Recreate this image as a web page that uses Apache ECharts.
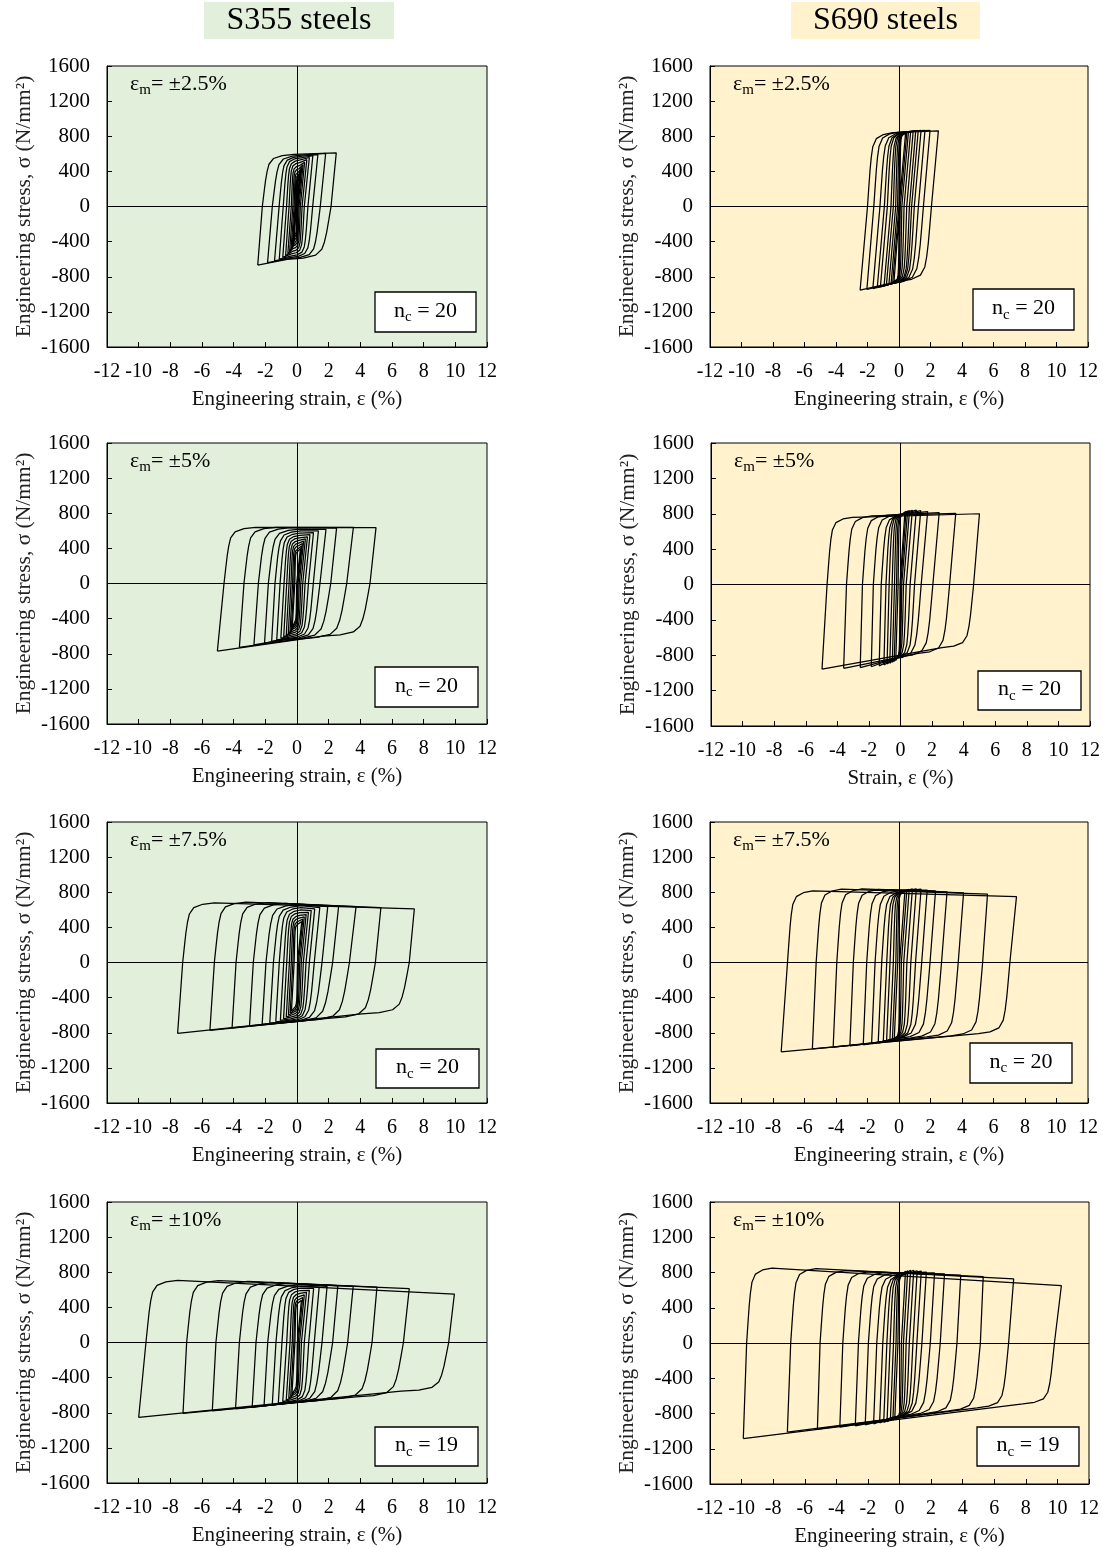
<!DOCTYPE html>
<html>
<head>
<meta charset="utf-8">
<script src="https://cdn.jsdelivr.net/npm/echarts@6.0.0/dist/echarts.min.js"></script>
<style>
html, body { margin: 0; padding: 0; background: #fff; }
#chart { width: 1103px; height: 1549px; }
</style>
</head>
<body>
<div id="chart"></div>
<script>
// each loop: [tipNegStrain, tipNegStress, upCrossStrain, upperKneeStress,
//             tipPosStrain, tipPosStress, downCrossStrain, lowerKneeStress]
var loopsS355_25 = [
    [-2.48, -668, -2.19, 594, 2.48, 611, 2.15, -602],
    [-1.86, -640, -1.56, 588, 1.81, 604, 1.47, -595],
    [-1.42, -620, -1.13, 574, 1.32, 592, 0.99, -582],
    [-1.12, -600, -0.87, 555, 1.0, 578, 0.69, -565],
    [-0.9, -580, -0.66, 530, 0.78, 558, 0.46, -540],
    [-0.72, -560, -0.5, 500, 0.62, 534, 0.32, -512],
    [-0.58, -540, -0.36, 465, 0.48, 505, 0.21, -480],
    [-0.47, -515, -0.26, 430, 0.38, 475, 0.13, -448],
    [-0.38, -490, -0.18, 395, 0.3, 445, 0.07, -415],
    [-0.31, -465, -0.12, 360, 0.24, 415, 0.03, -385],
    [-0.26, -440, -0.07, 330, 0.19, 385, 0.0, -352],
    [-0.22, -415, -0.04, 300, 0.16, 355, -0.02, -322]
];
var loopsS690_25 = [
    [-2.47, -953, -2.0, 840, 2.5, 862, 2.06, -850],
    [-2.04, -945, -1.6, 848, 1.97, 866, 1.55, -875],
    [-1.66, -935, -1.21, 850, 1.65, 868, 1.23, -880],
    [-1.38, -925, -0.93, 850, 1.4, 866, 0.97, -878],
    [-1.18, -915, -0.74, 850, 1.22, 862, 0.8, -875],
    [-0.95, -905, -0.51, 848, 1.06, 858, 0.66, -870],
    [-0.8, -895, -0.36, 845, 0.9, 855, 0.49, -866],
    [-0.64, -885, -0.21, 842, 0.74, 852, 0.32, -862],
    [-0.5, -875, -0.09, 838, 0.6, 848, 0.18, -858],
    [-0.4, -865, 0.0, 834, 0.5, 844, 0.08, -854],
    [-0.32, -855, 0.05, 830, 0.42, 840, 0.01, -850]
];
var loopsS355_5 = [
    [-5.03, -770, -4.61, 640, 4.99, 636, 4.61, -600],
    [-3.64, -728, -3.35, 640, 3.56, 638, 3.14, -630],
    [-2.72, -700, -2.44, 635, 2.5, 630, 2.13, -640],
    [-2.05, -680, -1.81, 620, 1.83, 615, 1.45, -635],
    [-1.6, -660, -1.39, 600, 1.35, 598, 1.03, -625],
    [-1.28, -645, -1.07, 575, 1.04, 578, 0.72, -610],
    [-1.02, -625, -0.82, 548, 0.82, 556, 0.51, -590],
    [-0.84, -608, -0.65, 520, 0.66, 532, 0.36, -568],
    [-0.68, -590, -0.5, 490, 0.53, 508, 0.24, -545],
    [-0.55, -570, -0.38, 460, 0.42, 482, 0.14, -520],
    [-0.44, -548, -0.28, 430, 0.34, 455, 0.07, -495],
    [-0.36, -525, -0.2, 400, 0.28, 428, 0.02, -470],
    [-0.3, -500, -0.14, 372, 0.22, 400, -0.02, -445]
];
var loopsS690_5 = [
    [-4.97, -958, -4.65, 760, 5.0, 800, 4.63, -715],
    [-3.6, -948, -3.42, 775, 3.5, 805, 3.11, -780],
    [-2.55, -940, -2.41, 785, 2.45, 812, 2.05, -815],
    [-1.85, -930, -1.72, 792, 1.72, 825, 1.31, -845],
    [-1.35, -920, -1.22, 796, 1.28, 835, 0.89, -840],
    [-1.05, -910, -0.92, 798, 1.0, 840, 0.61, -838],
    [-0.85, -900, -0.72, 800, 0.75, 840, 0.36, -835],
    [-0.68, -890, -0.53, 798, 0.57, 835, 0.19, -832],
    [-0.52, -880, -0.38, 795, 0.45, 830, 0.08, -830],
    [-0.4, -870, -0.25, 790, 0.35, 825, 0.02, -828],
    [-0.3, -860, -0.15, 785, 0.28, 820, -0.03, -825]
];
var loopsS355_75 = [
    [-7.54, -808, -7.22, 680, 7.41, 610, 7.09, -585],
    [-5.5, -772, -5.22, 688, 5.3, 626, 4.95, -635],
    [-4.1, -745, -3.85, 683, 3.73, 636, 3.31, -665],
    [-3.0, -722, -2.76, 673, 2.63, 640, 2.25, -685],
    [-2.2, -705, -1.96, 662, 1.94, 636, 1.58, -680],
    [-1.72, -690, -1.49, 648, 1.44, 626, 1.09, -672],
    [-1.34, -675, -1.12, 625, 1.12, 610, 0.78, -660],
    [-1.05, -660, -0.84, 598, 0.9, 592, 0.57, -642],
    [-0.85, -642, -0.65, 568, 0.72, 570, 0.4, -620],
    [-0.68, -622, -0.48, 536, 0.58, 546, 0.27, -595],
    [-0.54, -600, -0.36, 505, 0.46, 520, 0.17, -570],
    [-0.43, -577, -0.26, 472, 0.37, 494, 0.09, -545],
    [-0.35, -553, -0.18, 440, 0.3, 466, 0.03, -518]
];
var loopsS690_75 = [
    [-7.48, -1017, -7.08, 815, 7.46, 750, 7.04, -810],
    [-5.5, -985, -5.26, 835, 5.62, 778, 5.31, -835],
    [-4.18, -965, -3.95, 838, 4.1, 792, 3.76, -848],
    [-3.12, -950, -2.9, 832, 3.05, 805, 2.7, -860],
    [-2.27, -938, -2.05, 826, 2.32, 815, 1.97, -866],
    [-1.74, -928, -1.52, 820, 1.79, 825, 1.44, -872],
    [-1.32, -918, -1.1, 816, 1.4, 835, 1.05, -872],
    [-1.0, -908, -0.78, 812, 1.1, 840, 0.75, -870],
    [-0.79, -898, -0.57, 808, 0.85, 838, 0.5, -866],
    [-0.58, -888, -0.36, 804, 0.65, 834, 0.3, -862],
    [-0.42, -878, -0.2, 800, 0.5, 830, 0.15, -858],
    [-0.3, -868, -0.08, 795, 0.38, 825, 0.04, -854]
];
var loopsS355_10 = [
    [-10.0, -854, -9.54, 708, 9.94, 552, 9.58, -555],
    [-7.2, -808, -6.97, 705, 7.09, 613, 6.72, -620],
    [-5.35, -778, -5.12, 695, 5.05, 630, 4.74, -650],
    [-3.88, -755, -3.64, 685, 3.55, 640, 3.2, -678],
    [-2.83, -738, -2.59, 672, 2.58, 645, 2.25, -692],
    [-2.08, -722, -1.85, 658, 1.9, 640, 1.58, -690],
    [-1.56, -706, -1.33, 642, 1.4, 630, 1.09, -684],
    [-1.18, -690, -0.95, 620, 1.05, 615, 0.74, -670],
    [-0.9, -674, -0.65, 592, 0.78, 595, 0.46, -650],
    [-0.68, -656, -0.44, 560, 0.6, 570, 0.28, -625],
    [-0.52, -636, -0.3, 525, 0.46, 542, 0.16, -598],
    [-0.4, -614, -0.2, 490, 0.36, 512, 0.08, -570],
    [-0.32, -590, -0.13, 455, 0.28, 482, 0.02, -540]
];
var loopsS690_10 = [
    [-9.89, -1084, -9.68, 850, 10.25, 650, 9.81, -690],
    [-7.1, -1010, -6.89, 845, 7.23, 728, 6.91, -735],
    [-5.2, -978, -5.03, 822, 5.3, 752, 5.12, -770],
    [-3.78, -955, -3.59, 808, 3.88, 770, 3.64, -800],
    [-2.8, -940, -2.6, 798, 2.85, 785, 2.58, -820],
    [-2.17, -928, -1.97, 790, 2.22, 795, 1.95, -832],
    [-1.64, -918, -1.44, 786, 1.7, 805, 1.42, -842],
    [-1.26, -908, -1.06, 784, 1.38, 815, 1.1, -845],
    [-1.0, -900, -0.8, 782, 1.12, 820, 0.85, -846],
    [-0.79, -892, -0.59, 780, 0.9, 825, 0.62, -846],
    [-0.58, -882, -0.38, 778, 0.7, 825, 0.42, -845],
    [-0.42, -872, -0.22, 776, 0.52, 820, 0.25, -842],
    [-0.3, -862, -0.1, 774, 0.38, 815, 0.12, -838]
];

// knee profile (fraction of knee width, fraction of knee stress)
var kneeFx = [0, 0.05, 0.1, 0.15, 0.21, 0.35, 0.63, 1];
var kneeFy = [0, 0.25, 0.49, 0.67, 0.81, 0.92, 0.975, 1];

var strainAxis = [-12, 12, 2];
var stressAxis = [-1600, 1600, 400];
var amplitudes = ['±2.5%', '±5%', '±7.5%', '±10%'];
var cyclesS355 = [20, 20, 20, 19];
var cyclesS690 = [20, 20, 20, 19];
var steelNames = ['S355 steels', 'S690 steels'];

var GREEN = '#e2efda', YELLOW = '#fff2cc';
var FONT = '"Liberation Serif", "Times New Roman", serif';

// layout: grid [left, top, width, height], nc box [x1, y1, x2, y2]
var panels = [
    {loops: loopsS355_25, grid: [107, 66, 380, 281], bg: GREEN, amp: amplitudes[0], nc: cyclesS355[0], box: [375, 292, 476, 332], xName: 'Engineering strain, ε (%)', kw: [2.0, 3.0]},
    {loops: loopsS690_25, grid: [710, 66, 378, 281], bg: YELLOW, amp: amplitudes[0], nc: cyclesS690[0], box: [973, 289, 1074, 330], xName: 'Engineering strain, ε (%)', kw: [1.6, 2.0]},
    {loops: loopsS355_5, grid: [107, 443, 380, 281], bg: GREEN, amp: amplitudes[1], nc: cyclesS355[1], box: [375, 667, 478, 707], xName: 'Engineering strain, ε (%)', kw: [2.0, 3.0]},
    {loops: loopsS690_5, grid: [711, 443, 379, 283], bg: YELLOW, amp: amplitudes[1], nc: cyclesS690[1], box: [978, 671, 1081, 710], xName: 'Strain, ε (%)', kw: [1.6, 2.0]},
    {loops: loopsS355_75, grid: [107, 822, 380, 281], bg: GREEN, amp: amplitudes[2], nc: cyclesS355[2], box: [376, 1049, 479, 1088], xName: 'Engineering strain, ε (%)', kw: [2.0, 3.0]},
    {loops: loopsS690_75, grid: [710, 822, 378, 281], bg: YELLOW, amp: amplitudes[2], nc: cyclesS690[2], box: [970, 1043, 1072, 1083], xName: 'Engineering strain, ε (%)', kw: [1.6, 2.0]},
    {loops: loopsS355_10, grid: [107, 1202, 380, 281], bg: GREEN, amp: amplitudes[3], nc: cyclesS355[3], box: [375, 1427, 478, 1466], xName: 'Engineering strain, ε (%)', kw: [2.0, 3.0]},
    {loops: loopsS690_10, grid: [710, 1202, 379, 282], bg: YELLOW, amp: amplitudes[3], nc: cyclesS690[3], box: [977, 1427, 1079, 1466], xName: 'Engineering strain, ε (%)', kw: [1.6, 2.0]}
];

function buildLoop(L, kwUp, kwDn) {
    var negX = L[0], negY = L[1], upX = L[2], kT = L[3];
    var posX = L[4], posY = L[5], dnX = L[6], kB = L[7];
    var pts = [[negX, negY]];
    var w = Math.min(kwUp, 0.6 * (posX - upX));
    for (var i = 0; i < kneeFx.length; i++) {
        pts.push([upX + kneeFx[i] * w, kT * kneeFy[i]]);
    }
    pts.push([posX, posY]);
    w = Math.min(kwDn, 0.6 * (dnX - negX));
    for (i = 0; i < kneeFx.length; i++) {
        pts.push([dnX - kneeFx[i] * w, kB * kneeFy[i]]);
    }
    pts.push([negX, negY]);
    return pts;
}

var richText = {
    a: {fontFamily: FONT, fontSize: 22, color: '#000', lineHeight: 24, verticalAlign: 'top'},
    s: {fontFamily: FONT, fontSize: 15, color: '#000', lineHeight: 16, verticalAlign: 'top', padding: [10, 0, 0, 0]}
};

function plainNum(v) { return String(v); }

var grids = [], xAxes = [], yAxes = [], series = [], graphics = [];

panels.forEach(function (p, k) {
    var g = p.grid;
    grids.push({
        left: g[0], top: g[1], width: g[2], height: g[3],
        show: true, backgroundColor: p.bg, borderColor: '#000', borderWidth: 1
    });
    xAxes.push({
        type: 'value', gridIndex: k,
        min: strainAxis[0], max: strainAxis[1], interval: strainAxis[2],
        axisLine: {show: true, onZero: false, lineStyle: {color: '#000', width: 1}},
        axisTick: {show: true, inside: true, length: 5, lineStyle: {color: '#000'}},
        axisLabel: {fontFamily: FONT, fontSize: 20, color: '#000', margin: 15, formatter: plainNum},
        splitLine: {show: false},
        name: p.xName, nameLocation: 'middle', nameGap: 42,
        nameTextStyle: {fontFamily: FONT, fontSize: 21, color: '#111'}
    });
    yAxes.push({
        type: 'value', gridIndex: k,
        min: stressAxis[0], max: stressAxis[1], interval: stressAxis[2],
        axisLine: {show: true, onZero: false, lineStyle: {color: '#000', width: 1}},
        axisTick: {show: true, inside: true, length: 5, lineStyle: {color: '#000'}},
        axisLabel: {fontFamily: FONT, fontSize: 21, color: '#000', margin: 17, formatter: plainNum},
        splitLine: {show: false},
        name: 'Engineering stress, σ (N/mm²)', nameLocation: 'middle', nameGap: 72,
        nameTextStyle: {fontFamily: FONT, fontSize: 21.5, color: '#222'}
    });

    p.loops.forEach(function (L, j) {
        var s = {
            type: 'line', xAxisIndex: k, yAxisIndex: k,
            data: buildLoop(L, p.kw[0], p.kw[1]),
            showSymbol: false, symbol: 'none', smooth: false,
            lineStyle: {color: '#000', width: 1.25},
            silent: true, animation: false
        };
        if (j === 0) {
            s.markLine = {
                silent: true, symbol: 'none', animation: false,
                label: {show: false},
                lineStyle: {color: '#000', width: 1, type: 'solid'},
                data: [{xAxis: 0}, {yAxis: 0}]
            };
        }
        series.push(s);
    });

    // strain amplitude label
    graphics.push({
        type: 'text', z: 100,
        left: g[0] + 23, top: g[1] + 7,
        style: {text: '{a|ε}{s|m}{a|= ' + p.amp + '}', rich: richText}
    });
    // cycle count box
    var b = p.box;
    graphics.push({
        type: 'rect', z: 100,
        shape: {x: b[0], y: b[1], width: b[2] - b[0], height: b[3] - b[1]},
        style: {fill: '#fff', stroke: '#000', lineWidth: 1.3}
    });
    graphics.push({
        type: 'text', z: 101,
        x: (b[0] + b[2]) / 2, y: (b[1] + b[3]) / 2 - 12,
        style: {text: '{a|n}{s|c}{a| = ' + p.nc + '}', rich: richText, align: 'center'}
    });
});

// column headers
[[204, 394, GREEN], [791, 980, YELLOW]].forEach(function (h, i) {
    graphics.push({
        type: 'rect', z: 100,
        shape: {x: h[0], y: 2, width: h[1] - h[0], height: 37},
        style: {fill: h[2]}
    });
    graphics.push({
        type: 'text', z: 101,
        x: (h[0] + h[1]) / 2, y: 21,
        style: {text: steelNames[i], font: '32px ' + FONT, fill: '#000', align: 'center', verticalAlign: 'middle'}
    });
});

var chart = echarts.init(document.getElementById('chart'), null, {renderer: 'canvas'});
chart.setOption({
    animation: false,
    backgroundColor: '#fff',
    grid: grids,
    xAxis: xAxes,
    yAxis: yAxes,
    series: series,
    graphic: graphics
});
</script>
</body>
</html>
